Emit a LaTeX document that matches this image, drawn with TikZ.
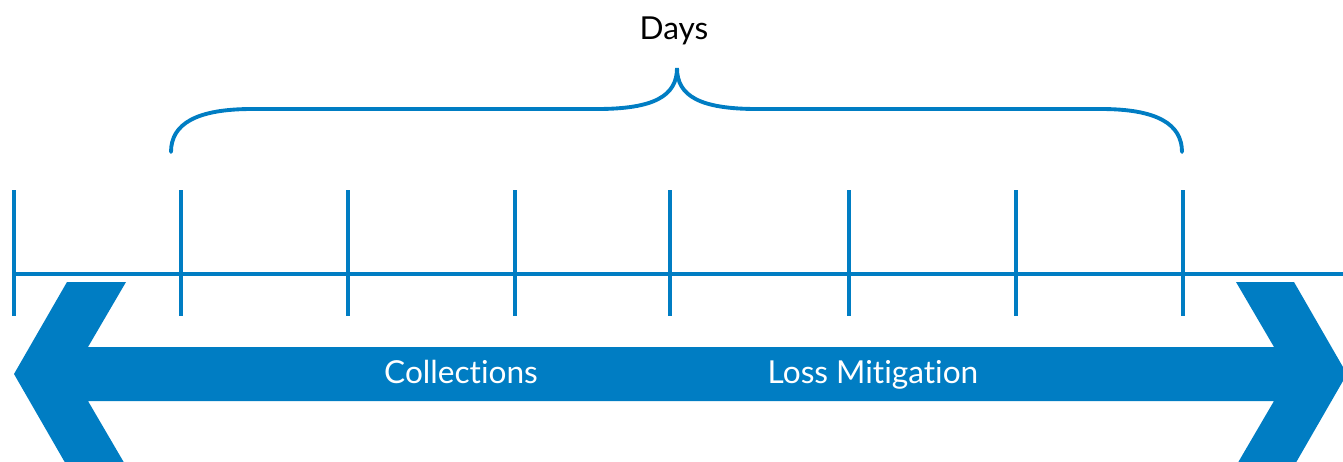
\documentclass[tikz,border=0pt]{standalone}
\usepackage{fontspec}
\setmainfont[Ligatures={NoCommon,NoRare,NoContextual}]{Lato}
\definecolor{bankblue}{RGB}{0, 125, 195}
\usetikzlibrary{positioning}

\begin{document}
\begin{tikzpicture}[x=0.02cm, y=-0.02cm]
    \tikzstyle{tick} = [draw, bankblue, line width=2.2pt]
    \tikzstyle{axis} = [draw, bankblue, line width=2.2pt]
    \tikzstyle{brace} = [draw, bankblue, line width=2.2pt, line cap=round]
    \tikzstyle{phase} = [text=white, font=\fontsize{18}{21}\selectfont, anchor=base]
    \tikzstyle{caption} = [text=black, font=\fontsize{18}{21}\selectfont, anchor=base]

    \useasboundingbox (0,0) rectangle (1343,461);
    \clip (0,0) rectangle (1343,461);

    % timeline and day ticks
    \path [axis] (14,274) -- (1350,274);
    \foreach \x in {14,181,348,515,670,849,1016,1183}
        \path [tick] (\x,190) -- (\x,316);

    % brace over the days
    \coordinate (bl) at (171,152);
    \coordinate (br) at (1182,152);
    \coordinate (cusp) at (677,68);
    \path [brace] (bl) .. controls (171,124) and (196,109) .. (252,109)
        -- (597,109) .. controls (654,109) and (677,96) .. (cusp)
        .. controls (677,96) and (700,109) .. (757,109)
        -- (1101,109) .. controls (1157,109) and (1182,124) .. (br);
    \node [caption] (days) at (674,39) {Days};

    % double-headed phase arrow
    \fill [bankblue] (14,374) -- (67,282) -- (126,282) -- (88,347)
        -- (1274,347) -- (1236,282) -- (1294,282) -- (1347,374)
        -- (1294,466) -- (1236,466) -- (1274,401)
        -- (88,401) -- (126,466) -- (67,466) -- cycle;
    \node [phase] (coll) at (461,383) {Collections};
    % kerns keep the t and i apart
    \node [phase] (lossmit) at (873,383) {Loss Mit\kern0pt igat\kern0pt ion};
\end{tikzpicture}
\end{document}
